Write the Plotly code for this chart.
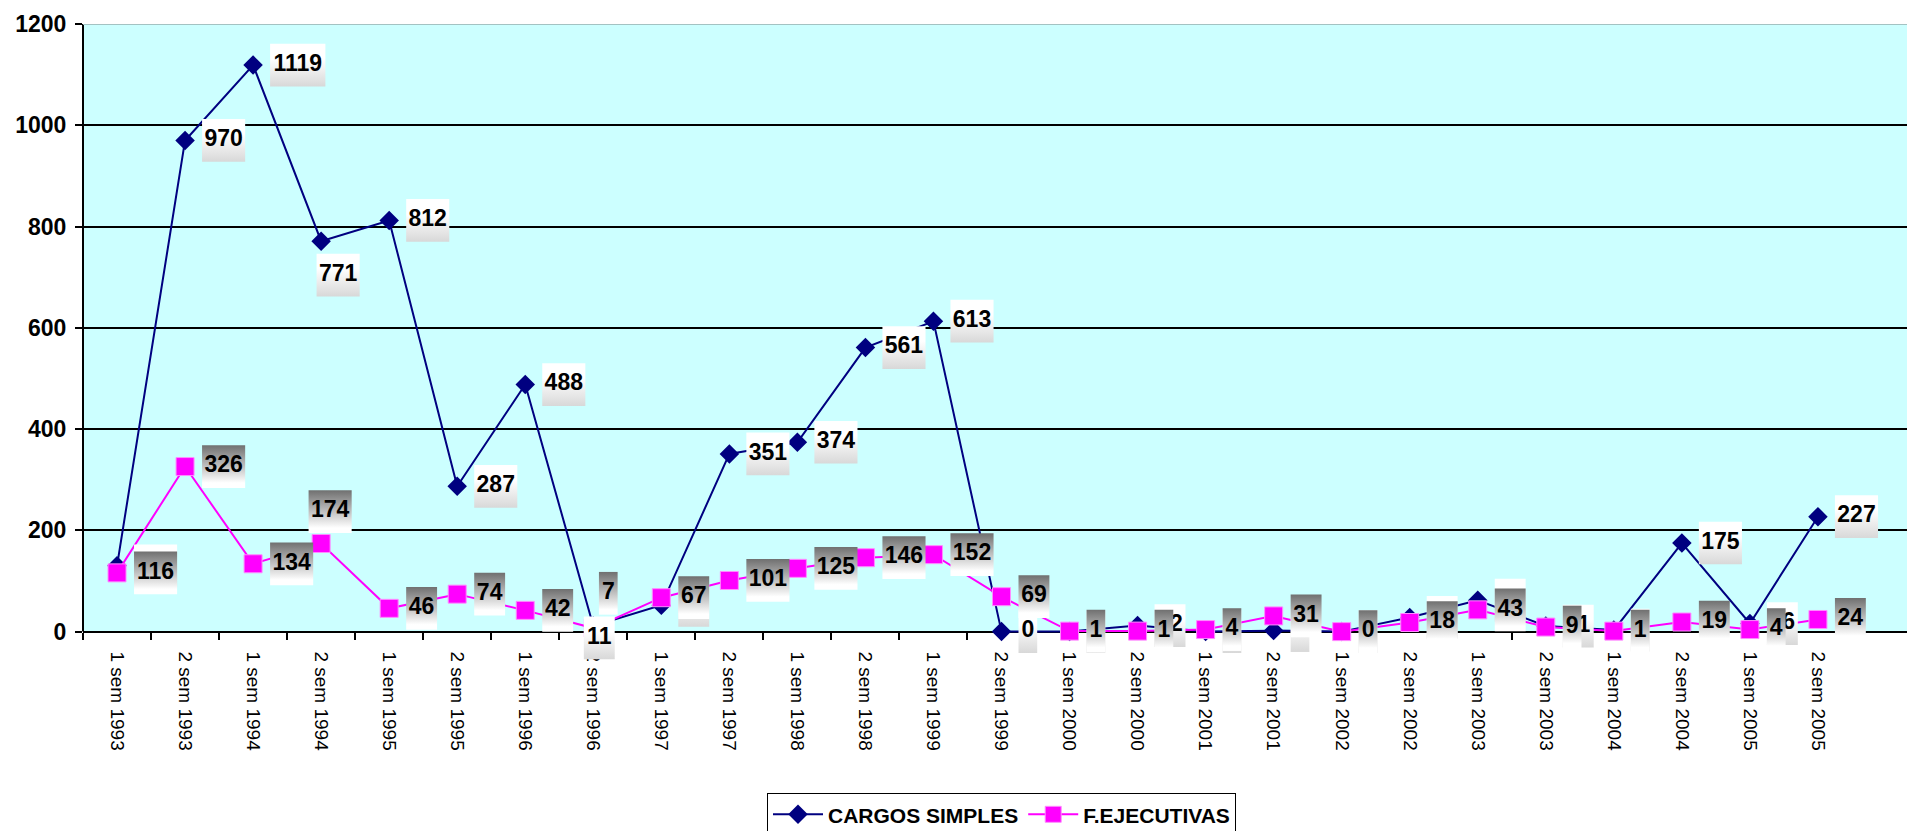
import plotly.graph_objects as go

# ---------------- data ----------------
categories = [
    "1 sem 1993", "2 sem 1993", "1 sem 1994", "2 sem 1994", "1 sem 1995", "2 sem 1995",
    "1 sem 1996", "2 sem 1996", "1 sem 1997", "2 sem 1997", "1 sem 1998", "2 sem 1998",
    "1 sem 1999", "2 sem 1999", "1 sem 2000", "2 sem 2000", "1 sem 2001", "2 sem 2001",
    "1 sem 2002", "2 sem 2002", "1 sem 2003", "2 sem 2003", "1 sem 2004", "2 sem 2004",
    "1 sem 2005", "2 sem 2005",
]
cargos_simples = [130, 970, 1119, 771, 812, 287, 488, 11, 52, 351, 374, 561, 613,
                  0, 0, 12, 0, 2, 0, 28, 62, 11, 3, 175, 16, 227]
f_ejecutivas = [116, 326, 134, 174, 46, 74, 42, 7, 67, 101, 125, 146, 152,
                69, 1, 1, 4, 31, 0, 18, 43, 9, 1, 19, 4, 24]
y_ticks = [0, 200, 400, 600, 800, 1000, 1200]
series_names = ["CARGOS SIMPLES", "F.EJECUTIVAS"]

# ---------------- layout constants ----------------
W, H = 1915, 831
M_L, M_R, M_T, M_B = 75, 3, 16, 173
N_SLOTS = len(categories) + 1          # one empty slot at the right end
Y_MAX = 1200
Y_PAD = 60                             # hidden space under zero so label boxes are not clipped
plot_w = W - M_L - M_R
plot_h = H - M_T - M_B
px_x = plot_w / N_SLOTS
px_y = plot_h / (Y_MAX + Y_PAD)

FONT = "Liberation Sans, Arial, sans-serif"
LABEL_SIZE = 23
BOX_H = 43
GAP = 17
NAVY = "#000080"
MAGENTA = "#FF00FF"

NAVY_OFFSETS = {3: (17, 34), 7: (6, 12)}       # (dx, dy) of box centre in px, dy downwards
MAG_OFFSETS = {3: (9, -32), 7: (15, -35)}

NAVY_GRAD = [[0, "#d8d8d8"], [0.65, "#ffffff"], [1, "#ffffff"]]
MAG_GRAD = [[0, "#ffffff"], [0.12, "#ffffff"], [1, "#707070"]]


def box_w(txt):
    return 6.5 + 12.2 * len(txt)


def label_traces(values, offsets, colorscale):
    boxes = []
    tx, ty, tt = [], [], []
    for i, v in enumerate(values):
        txt = str(v)
        w = box_w(txt)
        dx, dy = offsets.get(i, (GAP + w / 2, 0))
        cx = i + dx / px_x
        cy = v - dy / px_y
        hw = w / 2 / px_x
        hh = BOX_H / 2 / px_y
        boxes.append(go.Scatter(
            x=[cx - hw, cx + hw, cx + hw, cx - hw, cx - hw],
            y=[cy - hh, cy - hh, cy + hh, cy + hh, cy - hh],
            mode="none", fill="toself",
            fillgradient=dict(type="vertical", colorscale=colorscale),
            showlegend=False, hoverinfo="skip"))
        tx.append(cx)
        ty.append(cy)
        tt.append(txt)
    text = go.Scatter(x=tx, y=ty, text=tt, mode="text", textposition="middle center",
                      textfont=dict(family=FONT, size=LABEL_SIZE, color="black", weight="bold"),
                      showlegend=False, hoverinfo="skip", cliponaxis=False)
    return boxes, text


xs = list(range(len(categories)))

fig = go.Figure()
fig.add_trace(go.Scatter(
    x=xs, y=cargos_simples, mode="lines+markers", name=series_names[0],
    line=dict(color=NAVY, width=2),
    marker=dict(symbol="diamond", size=15, color=NAVY, line=dict(color=NAVY, width=0)),
    cliponaxis=False))
fig.add_trace(go.Scatter(
    x=xs, y=f_ejecutivas, mode="lines+markers", name=series_names[1],
    line=dict(color=MAGENTA, width=2),
    marker=dict(symbol="square", size=18, color=MAGENTA, line=dict(color="#ff8cff", width=1)),
    cliponaxis=False))

nb, nt = label_traces(cargos_simples, NAVY_OFFSETS, NAVY_GRAD)
mb, mt = label_traces(f_ejecutivas, MAG_OFFSETS, MAG_GRAD)
for t in nb:
    fig.add_trace(t)
fig.add_trace(nt)
for t in mb:
    fig.add_trace(t)
fig.add_trace(mt)

fig.update_layout(
    width=W, height=H,
    margin=dict(l=M_L, r=M_R, t=M_T, b=M_B),
    paper_bgcolor="white",
    plot_bgcolor="#CCFFFF",
    font=dict(family=FONT, color="black"),
    showlegend=True,
    legend=dict(
        orientation="h", x=0.5, xanchor="center",
        y=(H - M_B - 790) / plot_h, yanchor="top",
        font=dict(family=FONT, size=21, color="black", weight="bold"),
        bgcolor="white", bordercolor="black", borderwidth=1,
        itemwidth=50,
    ),
    xaxis=dict(
        type="linear", range=[-0.5, N_SLOTS - 0.5],
        anchor="free", position=Y_PAD / (Y_MAX + Y_PAD),
        tickmode="array", tickvals=xs, ticktext=categories,
        tickangle=90, tickfont=dict(family=FONT, size=19, color="black"),
        ticks="outside", ticklen=7, tickcolor="rgba(0,0,0,0)",
        ticklabelstandoff=8,
        minor=dict(ticks="outside", ticklen=7, tickwidth=2, tickcolor="black",
                   tickvals=[i - 0.5 for i in range(N_SLOTS + 1)], showgrid=False),
        showline=True, linecolor="black", linewidth=2,
        showgrid=False, zeroline=False, layer="below traces",
    ),
    yaxis=dict(
        range=[-Y_PAD, Y_MAX], tickmode="array", tickvals=y_ticks,
        tickfont=dict(family=FONT, size=23, color="black", weight="bold"),
        ticks="outside", ticklen=7, tickwidth=2, tickcolor="black",
        ticklabelstandoff=4,
        showgrid=True, gridcolor="black", gridwidth=2,
        zeroline=False, showline=False, layer="below traces",
    ),
    shapes=[
        dict(type="rect", xref="paper", x0=0, x1=1, yref="y", y0=-Y_PAD, y1=0,
             fillcolor="white", line=dict(width=0), layer="below"),
        dict(type="line", xref="paper", x0=0, x1=0, yref="y", y0=0, y1=Y_MAX,
             line=dict(color="black", width=2), layer="above"),
        dict(type="line", xref="paper", x0=0, x1=1, yref="y", y0=Y_MAX, y1=Y_MAX,
             line=dict(color="#a3c2c2", width=2), layer="above"),
        dict(type="line", xref="paper", x0=1, x1=1, yref="y", y0=0, y1=Y_MAX,
             line=dict(color="#b0c8c8", width=1), layer="above"),
    ],
)

fig.write_html("out.html")
